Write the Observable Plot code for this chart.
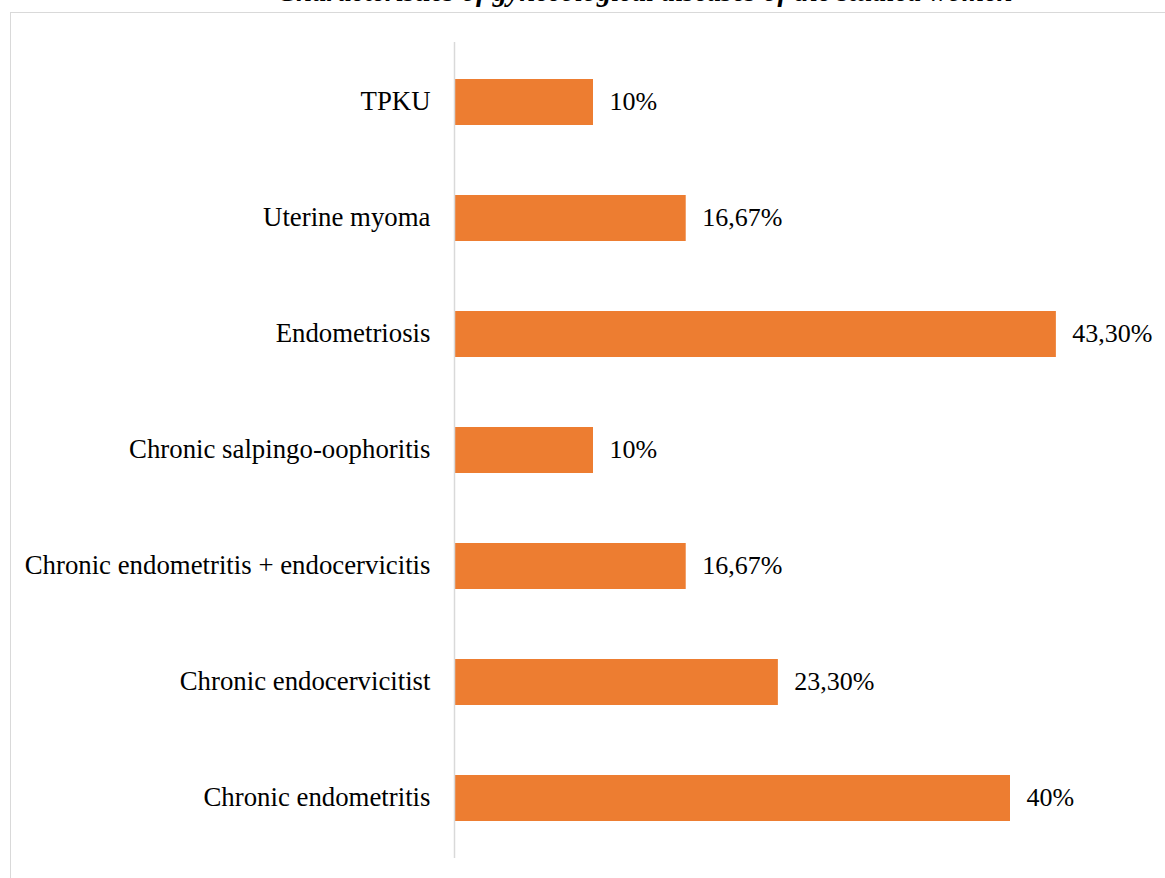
<!DOCTYPE html>
<html>
<head>
<meta charset="utf-8">
<script src="https://cdn.jsdelivr.net/npm/d3@7"></script>
<script src="https://cdn.jsdelivr.net/npm/@observablehq/plot@0.6"></script>
<style>
  html, body { margin: 0; padding: 0; background: #fff; overflow: hidden; }
  #wrap { position: relative; width: 1165px; height: 878px; overflow: hidden; }
  #frame { position: absolute; left: 10px; top: 12px; width: 1160px; height: 880px; border: 1px solid #d9d9d9; box-sizing: border-box; }
  #title { position: absolute; top: -22.5px; left: 645px; transform: translateX(-50%); white-space: nowrap;
           font-family: "Liberation Serif", "Times New Roman", serif; font-weight: bold; font-style: italic;
           font-size: 28.5px; line-height: 1; color: #000; }
  #chart { position: absolute; left: 0; top: 0; }
</style>
</head>
<body>
<div id="wrap">
  <div id="frame"></div>
  <div id="title">Characteristics of gynecological diseases of the studied women</div>
  <div id="chart"></div>
</div>
<script>
const categories = [
  "TPKU",
  "Uterine myoma",
  "Endometriosis",
  "Chronic salpingo-oophoritis",
  "Chronic endometritis + endocervicitis",
  "Chronic endocervicitist",
  "Chronic endometritis"
];
const values = [10, 16.67, 43.3, 10, 16.67, 23.3, 40];
const labels = ["10%", "16,67%", "43,30%", "10%", "16,67%", "23,30%", "40%"];

const data = categories.map((c, i) => ({category: c, value: values[i], label: labels[i]}));
const font = "'Liberation Serif', 'Times New Roman', serif";

const chart = Plot.plot({
  width: 1165,
  height: 878,
  marginLeft: 454,
  marginRight: 16,
  marginTop: 42,
  marginBottom: 20,
  style: {fontFamily: font, fontSize: "26.8px", color: "#000", background: "transparent"},
  x: {domain: [0, 50], axis: null},
  y: {domain: categories, paddingInner: 0.605, paddingOuter: 0.3025, label: null},
  marks: [
    Plot.barX(data, {y: "category", x: "value", fill: "#ED7D31"}),
    Plot.ruleX([0], {stroke: "#d9d9d9", strokeWidth: 1.5}),
    Plot.text(data, {y: "category", x: "value", text: "label", dx: 16, dy: -1, textAnchor: "start",
      fontSize: 26, fontFamily: font, fill: "#000"}),
    Plot.axisY({tickSize: 0, tickPadding: 24, dy: -1, fontSize: 26.8, fontFamily: font, label: null, fill: "#000"})
  ]
});
document.getElementById("chart").appendChild(chart);
</script>
</body>
</html>
